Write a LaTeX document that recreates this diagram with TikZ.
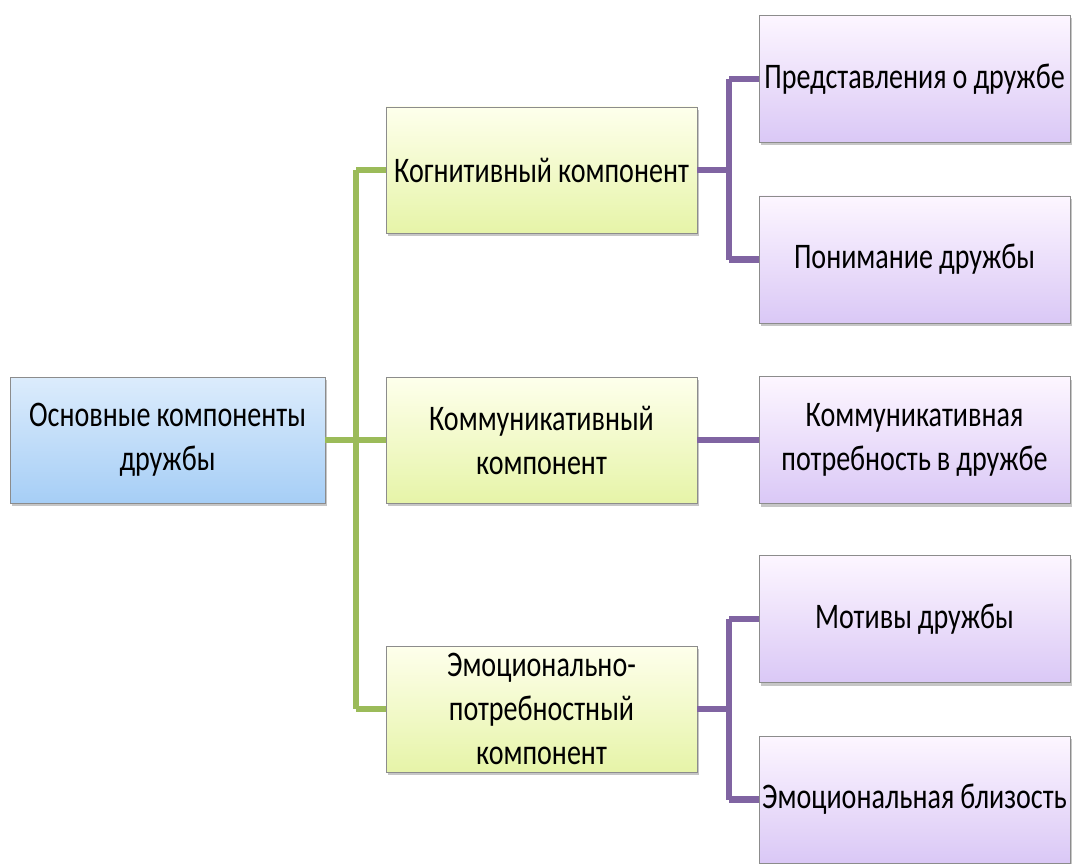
\documentclass[tikz,border=0pt]{standalone}
\usepackage{fontspec}
\setmainfont[FakeStretch=0.78]{Carlito}
\usetikzlibrary{shadows}
\definecolor{gline}{HTML}{9BBB59}
\definecolor{pline}{HTML}{8064A2}
\newcommand{\boxfont}{\fontsize{36}{44}\selectfont\fontdimen2\font=6pt\fontdimen3\font=0pt\fontdimen4\font=0pt}
\tikzset{
  box/.style={draw=black!45, line width=0.8pt, minimum width=311pt, inner xsep=0pt, align=center,
    font=\boxfont, drop shadow={shadow xshift=2pt, shadow yshift=-3pt, opacity=0.45}},
  bluebox/.style={box, top color={rgb,255:red,220;green,236;blue,252}, bottom color={rgb,255:red,166;green,206;blue,246}, minimum height=126pt},
  greenbox/.style={box, top color={rgb,255:red,254;green,255;blue,236}, bottom color={rgb,255:red,230;green,244;blue,168}, minimum height=126pt},
  purplebox/.style={box, top color={rgb,255:red,253;green,246;blue,255}, bottom color={rgb,255:red,218;green,200;blue,246}, minimum height=127pt},
  gconn/.style={draw=gline, line width=6.5pt},
  pconn/.style={draw=pline, line width=6.5pt},
}
\begin{document}
\begin{tikzpicture}[x=1pt,y=-1pt]
\useasboundingbox (0,0) rectangle (1072,864);
% nodes
\node[bluebox, minimum width=315pt] (root) at (167.5,440) {Основные компоненты\\дружбы};
\node[greenbox] (c1) at (541.5,170) {Когнитивный компонент};
\node[greenbox] (c2) at (541.5,440) {Коммуникативный\\компонент};
\node[greenbox] (c3) at (541.5,709) {Эмоционально-\\потребностный\\компонент};
\node[purplebox] (r1) at (914.5,79) {Представления о дружбе};
\node[purplebox] (r2) at (914.5,259.5) {Понимание дружбы};
\node[purplebox] (r3) at (914.5,440) {Коммуникативная\\потребность в дружбе};
\node[purplebox] (r4) at (914.5,619) {Мотивы дружбы};
\node[purplebox] (r5) at (914.5,799.5) {Эмоциональная близость};
% coordinates
\coordinate (gx) at (356,0);
\coordinate (px1) at (729,0);
% green connectors
\draw[gconn] (root.east) -- (root.east -| gx);
\draw[gconn] (gx |- c1.west) -- (gx |- c3.west);
\draw[gconn] (gx |- c1.west) -- (c1.west);
\draw[gconn] (gx |- c2.west) -- (c2.west);
\draw[gconn] (gx |- c3.west) -- (c3.west);
% purple connectors
\draw[pconn] (c1.east) -- (c1.east -| px1);
\draw[pconn] (px1 |- r1.west) -- (px1 |- r2.west);
\draw[pconn] (px1 |- r1.west) -- (r1.west);
\draw[pconn] (px1 |- r2.west) -- (r2.west);
\draw[pconn] (c2.east) -- (r3.west);
\draw[pconn] (c3.east) -- (c3.east -| px1);
\draw[pconn] (px1 |- r4.west) -- (px1 |- r5.west);
\draw[pconn] (px1 |- r4.west) -- (r4.west);
\draw[pconn] (px1 |- r5.west) -- (r5.west);
\end{tikzpicture}
\end{document}
